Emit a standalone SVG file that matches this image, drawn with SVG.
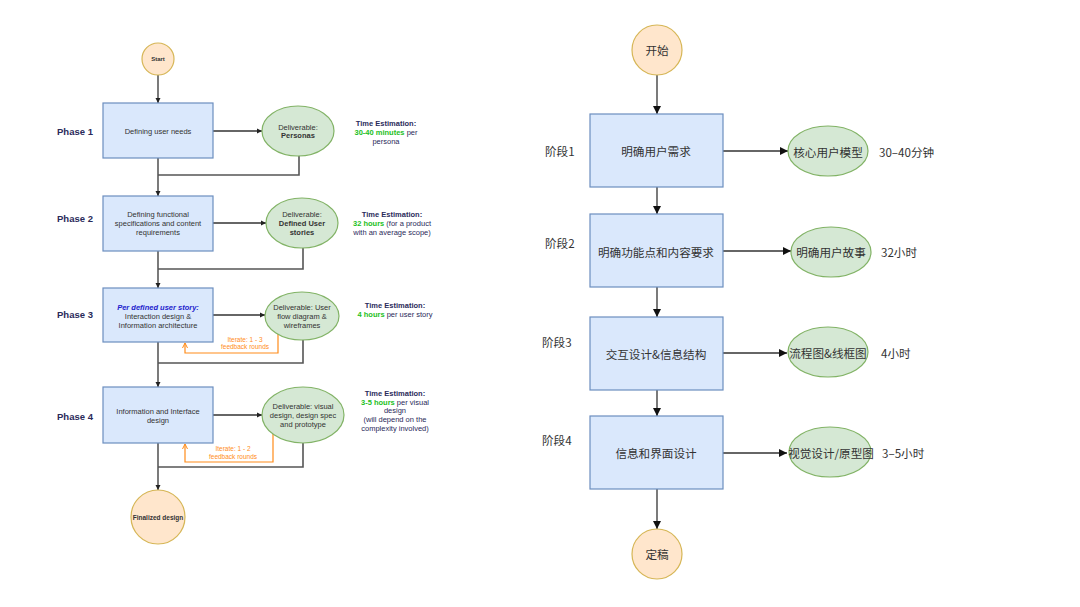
<svg xmlns="http://www.w3.org/2000/svg" width="1080" height="607" viewBox="0 0 1080 607">
<defs>
<style>
.box{fill:#dae8fc;stroke:#6c8ebf;stroke-width:1.2}
.del{fill:#d5e8d4;stroke:#82b366;stroke-width:1.2}
.term{fill:#ffe6cc;stroke:#d6b656;stroke-width:1.2}
.ln{fill:none;stroke:#333;stroke-width:1.3}
.rl{fill:none;stroke:#555;stroke-width:1.6}
.or{fill:none;stroke:#ff8c1a;stroke-width:1.2}
.en{font-family:"Liberation Sans",Arial,sans-serif;fill:#333;dominant-baseline:central}
.zh{font-family:"Noto Sans CJK SC","Noto Sans CJK TC",sans-serif;font-size:11.6px;fill:#333;dominant-baseline:central}
.ph{font-size:9.5px;font-weight:bold;fill:#2a2a5a}
.t7{font-size:7.5px;text-anchor:middle}
.te{font-size:7.5px;text-anchor:middle;fill:#2a2a5a}
.b{font-weight:bold}
.g{fill:#22c022;font-weight:bold}
.ot{font-size:6.5px;text-anchor:middle;fill:#ff8c1a}
.mid{text-anchor:middle}
</style>
<marker id="ah" markerWidth="9" markerHeight="9" refX="8" refY="4.5" orient="auto" markerUnits="userSpaceOnUse">
<path d="M0,0.5 L8,4.5 L0,8.5 Z" fill="#111"/>
</marker>
<marker id="as" markerWidth="6" markerHeight="6" refX="5" refY="3" orient="auto" markerUnits="userSpaceOnUse">
<path d="M0,0.5 L5,3 L0,5.5 Z" fill="#222"/>
</marker>
<marker id="ao" markerWidth="6" markerHeight="6" refX="5" refY="3" orient="auto" markerUnits="userSpaceOnUse">
<path d="M0,0.5 L5,3 L0,5.5" fill="none" stroke="#ff8c1a" stroke-width="1"/>
</marker>
</defs>
<rect width="1080" height="607" fill="#fff"/>

<!-- LEFT DIAGRAM -->
<g id="left-connectors">
<line class="ln" x1="158" y1="75" x2="158" y2="103" marker-end="url(#as)"/>
<line class="ln" x1="158" y1="158" x2="158" y2="196" marker-end="url(#as)"/>
<line class="ln" x1="158" y1="251" x2="158" y2="288" marker-end="url(#as)"/>
<line class="ln" x1="158" y1="342" x2="158" y2="387" marker-end="url(#as)"/>
<line class="ln" x1="158" y1="443" x2="158" y2="490" marker-end="url(#as)"/>
<line class="ln" x1="213" y1="131" x2="262" y2="131" marker-end="url(#as)"/>
<line class="ln" x1="213" y1="223" x2="266" y2="223" marker-end="url(#as)"/>
<line class="ln" x1="213" y1="315" x2="265" y2="315" marker-end="url(#as)"/>
<line class="ln" x1="213" y1="415" x2="262" y2="415" marker-end="url(#as)"/>
<path class="rl" d="M299,155 V175 H158"/>
<path class="rl" d="M303,248 V269 H158"/>
<path class="rl" d="M303,340 V363 H158"/>
<path class="rl" d="M303,443 V467 H158"/>
<path class="or" d="M278,334 V353 H185 V343" marker-end="url(#ao)"/>
<path class="or" d="M273,434 V462 H185 V444" marker-end="url(#ao)"/>
<text class="en ot" x="245" y="339">Iterate: 1 - 3</text>
<text class="en ot" x="245" y="346">feedback rounds</text>
<text class="en ot" x="233" y="448">Iterate: 1 - 2</text>
<text class="en ot" x="233" y="456">feedback rounds</text>
</g>

<g id="l-start">
<circle class="term" cx="158" cy="59" r="16"/>
<text class="en b mid" x="158" y="59" font-size="6">Start</text>
</g>
<g id="l-phase1">
<text class="en ph" x="57" y="131">Phase 1</text>
<rect class="box" x="103" y="103" width="110" height="55"/>
<text class="en t7" x="158" y="131">Defining user needs</text>
</g>
<g id="l-del1">
<ellipse class="del" cx="298" cy="131" rx="36" ry="25"/>
<text class="en t7" x="298" y="127">Deliverable:</text>
<text class="en t7 b" x="298" y="135">Personas</text>
</g>
<g id="l-time1">
<text class="en te b" x="386" y="123">Time Estimation:</text>
<text class="en te" x="386" y="132"><tspan class="g">30-40 minutes</tspan> per</text>
<text class="en te" x="386" y="141">persona</text>
</g>

<g id="l-phase2">
<text class="en ph" x="57" y="218">Phase 2</text>
<rect class="box" x="103" y="196" width="110" height="55"/>
<text class="en t7" x="158" y="214">Defining functional</text>
<text class="en t7" x="158" y="223">specifications and content</text>
<text class="en t7" x="158" y="232">requirements</text>
</g>
<g id="l-del2">
<ellipse class="del" cx="302" cy="223" rx="36" ry="25"/>
<text class="en t7" x="302" y="214">Deliverable:</text>
<text class="en t7 b" x="302" y="223">Defined User</text>
<text class="en t7 b" x="302" y="232">stories</text>
</g>
<g id="l-time2">
<text class="en te b" x="392" y="214">Time Estimation:</text>
<text class="en te" x="392" y="223"><tspan class="g">32 hours</tspan> (for a product</text>
<text class="en te" x="392" y="232">with an average scope)</text>
</g>

<g id="l-phase3">
<text class="en ph" x="57" y="314">Phase 3</text>
<rect class="box" x="103" y="288" width="110" height="54"/>
<text class="en t7 b" x="158" y="307" font-style="italic" style="fill:#2222cc">Per defined user story:</text>
<text class="en t7" x="158" y="316">Interaction design &amp;</text>
<text class="en t7" x="158" y="325">Information architecture</text>
</g>
<g id="l-del3">
<ellipse class="del" cx="302" cy="316" rx="37" ry="24"/>
<text class="en t7" x="302" y="307">Deliverable: User</text>
<text class="en t7" x="302" y="316">flow diagram &amp;</text>
<text class="en t7" x="302" y="325">wireframes</text>
</g>
<g id="l-time3">
<text class="en te b" x="395" y="305">Time Estimation:</text>
<text class="en te" x="395" y="314"><tspan class="g">4 hours</tspan> per user story</text>
</g>

<g id="l-phase4">
<text class="en ph" x="57" y="416">Phase 4</text>
<rect class="box" x="103" y="387" width="110" height="56"/>
<text class="en t7" x="158" y="411">Information and Interface</text>
<text class="en t7" x="158" y="420">design</text>
</g>
<g id="l-del4">
<ellipse class="del" cx="303" cy="415" rx="41" ry="28"/>
<text class="en t7" x="303" y="406">Deliverable: visual</text>
<text class="en t7" x="303" y="415">design, design spec</text>
<text class="en t7" x="303" y="424">and prototype</text>
</g>
<g id="l-time4">
<text class="en te b" x="395" y="393">Time Estimation:</text>
<text class="en te" x="395" y="402"><tspan class="g">3-5 hours</tspan> per visual</text>
<text class="en te" x="395" y="410">design</text>
<text class="en te" x="395" y="419">(will depend on the</text>
<text class="en te" x="395" y="428">complexity involved)</text>
</g>
<g id="l-final">
<circle class="term" cx="158" cy="517" r="27"/>
<text class="en b mid" x="158" y="517" font-size="6.5">Finalized design</text>
</g>

<!-- RIGHT DIAGRAM -->
<g id="right-connectors">
<line class="ln" x1="657" y1="75" x2="657" y2="114" marker-end="url(#ah)"/>
<line class="ln" x1="657" y1="187" x2="657" y2="214" marker-end="url(#ah)"/>
<line class="ln" x1="657" y1="287" x2="657" y2="317" marker-end="url(#ah)"/>
<line class="ln" x1="657" y1="390" x2="657" y2="416" marker-end="url(#ah)"/>
<line class="ln" x1="657" y1="489" x2="657" y2="529" marker-end="url(#ah)"/>
<line class="ln" x1="723" y1="151" x2="788" y2="151" marker-end="url(#ah)"/>
<line class="ln" x1="723" y1="251" x2="791" y2="251" marker-end="url(#ah)"/>
<line class="ln" x1="723" y1="353" x2="787" y2="353" marker-end="url(#ah)"/>
<line class="ln" x1="723" y1="453" x2="787" y2="453" marker-end="url(#ah)"/>
</g>
<g id="r-start">
<circle class="term" cx="657" cy="50" r="25"/>
<text class="zh mid" x="657" y="50">开始</text>
</g>
<g id="r-phase1">
<text class="zh" x="545" y="151">阶段1</text>
<rect class="box" x="590" y="114" width="133" height="73"/>
<text class="zh mid" x="656" y="151">明确用户需求</text>
</g>
<g id="r-del1">
<ellipse class="del" cx="828" cy="151" rx="40" ry="25"/>
<text class="zh mid" x="828" y="152">核心用户模型</text>
<text class="zh" x="879" y="152">30–40分钟</text>
</g>
<g id="r-phase2">
<text class="zh" x="545" y="243">阶段2</text>
<rect class="box" x="590" y="214" width="133" height="73"/>
<text class="zh mid" x="656" y="252">明确功能点和内容要求</text>
</g>
<g id="r-del2">
<ellipse class="del" cx="831" cy="252" rx="40" ry="25"/>
<text class="zh mid" x="831" y="252">明确用户故事</text>
<text class="zh" x="881" y="252">32小时</text>
</g>
<g id="r-phase3">
<text class="zh" x="542" y="342">阶段3</text>
<rect class="box" x="590" y="317" width="133" height="73"/>
<text class="zh mid" x="656" y="354">交互设计&amp;信息结构</text>
</g>
<g id="r-del3">
<ellipse class="del" cx="828" cy="352" rx="40" ry="25"/>
<text class="zh mid" x="828" y="353">流程图&amp;线框图</text>
<text class="zh" x="881" y="353">4小时</text>
</g>
<g id="r-phase4">
<text class="zh" x="542" y="440">阶段4</text>
<rect class="box" x="590" y="416" width="133" height="73"/>
<text class="zh mid" x="656" y="453">信息和界面设计</text>
</g>
<g id="r-del4">
<ellipse class="del" cx="830" cy="452" rx="41" ry="25"/>
<text class="zh mid" x="831" y="453">视觉设计/原型图</text>
<text class="zh" x="882" y="453">3–5小时</text>
</g>
<g id="r-final">
<circle class="term" cx="657" cy="554" r="25"/>
<text class="zh mid" x="657" y="554">定稿</text>
</g>
</svg>
